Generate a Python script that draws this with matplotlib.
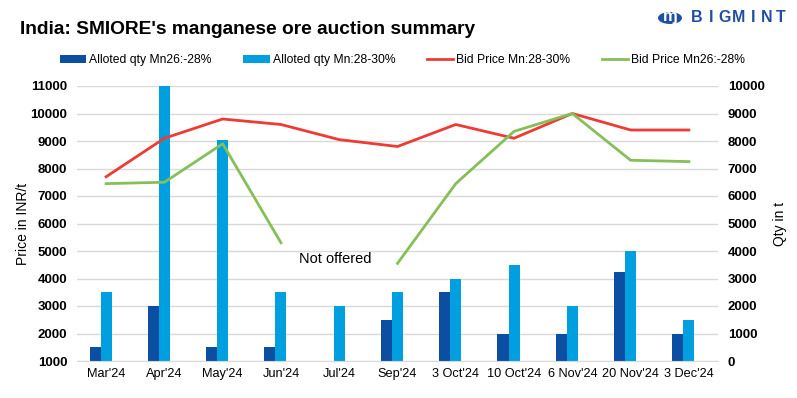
import numpy as np
import matplotlib.pyplot as plt
from matplotlib.patches import Circle

plt.rcParams['font.family'] = ['Liberation Sans', 'DejaVu Sans']

fechas = ["Mar'24", "Apr'24", "May'24", "Jun'24", "Jul'24", "Sep'24",
          "3 Oct'24", "10 Oct'24", "6 Nov'24", "20 Nov'24", "3 Dec'24"]

# cantidades adjudicadas (t), eje derecho
qty_mn26 = [500, 2000, 500, 500, 0, 1500, 2500, 1000, 1000, 3250, 1000]
qty_mn28 = [2500, 10000, 8050, 2500, 2000, 2500, 3000, 3500, 2000, 4000, 1500]

# precios de oferta (INR/t), eje izquierdo
precio_mn28 = [7700, 9100, 9800, 9600, 9050, 8800, 9600, 9100, 10000, 9400, 9400]
precio_mn26 = [7450, 7500, 8900, 5300, np.nan, 4550, 7450, 9350, 10000, 8300, 8250]

azul_osc = "#0B4EA2"
azul_cla = "#00A0E0"
rojo = "#EE3B33"
verde = "#86BF58"

fig = plt.figure(figsize=(7.97, 3.98), dpi=100)
ax = fig.add_axes([77/797, 1 - 361/398, (718-77)/797, (361-86)/398])
ax2 = ax.twinx()

x = np.arange(len(fechas))
w = 0.19

ax2.bar(x - w, qty_mn26, width=w, color=azul_osc, label="Alloted qty Mn26:-28%", zorder=2)
ax2.bar(x, qty_mn28, width=w, color=azul_cla, label="Alloted qty Mn:28-30%", zorder=2)

ax.plot(x, precio_mn28, color=rojo, lw=2, label="Bid Price Mn:28-30%", zorder=3)
ax.plot(x, precio_mn26, color=verde, lw=2, label="Bid Price Mn26:-28%", zorder=3)

# lineas encima de las barras
ax.set_zorder(ax2.get_zorder() + 1)
ax.patch.set_visible(False)

ax.set_xlim(-0.5, len(fechas) - 0.5)
ax.set_ylim(1000, 11000)
ax2.set_ylim(0, 10000)
ax.set_yticks(range(1000, 11001, 1000))
ax2.set_yticks(range(0, 10001, 1000))
ax2.yaxis.grid(True, color="#D9D9D9", lw=1, zorder=0)
ax2.set_axisbelow(True)

ax.set_xticks(x)
ax.set_xticklabels(fechas, fontsize=9.2)
for a in (ax, ax2):
    for s in a.spines.values():
        s.set_visible(False)
    a.tick_params(length=0)
ax.spines['bottom'].set_visible(True)
ax.spines['bottom'].set_color("#D9D9D9")
for lab in ax.get_yticklabels() + ax2.get_yticklabels():
    lab.set_fontweight('bold')
    lab.set_fontsize(9.5)
ax.tick_params(axis='y', pad=7)
ax2.tick_params(axis='y', pad=7)
ax.tick_params(axis='x', pad=5)

ax.set_ylabel("Price in INR/t", fontsize=10, labelpad=0)
ax2.set_ylabel("Qty in t", fontsize=10, labelpad=6)

ax.text(3.31, 4710, "Not offered", fontsize=10.5, va='center', ha='left')

fig.text(20/797, 1 - 30/398, "India: SMIORE's manganese ore auction summary",
         fontsize=13.8, fontweight='bold', va='center')

h1, l1 = ax2.get_legend_handles_labels()
h2, l2 = ax.get_legend_handles_labels()
fig.legend(h1 + h2, l1 + l2, loc='center', bbox_to_anchor=(0.505, 1 - 60/398),
           ncol=4, frameon=False, fontsize=8.7, columnspacing=2.6,
           handlelength=2.2, handletextpad=0.25)

# logo
azul_logo = "#1F4FA0"
fig.patches.append(Circle((670/797, 1 - 18/398), 12/797, transform=fig.transFigure,
                          facecolor=azul_logo, edgecolor='none'))
fig.text(670/797, 1 - 17/398, "ɱ", color="white", fontsize=12, fontweight='bold',
         ha='center', va='center')
for i, letra in enumerate("BIGMINT"):
    fig.text((697 + i * 14) / 797, 1 - 18/398, letra, color=azul_logo, fontsize=11.5,
             fontweight='bold', va='center', ha='center')

fig.savefig("out.png", dpi=100)
